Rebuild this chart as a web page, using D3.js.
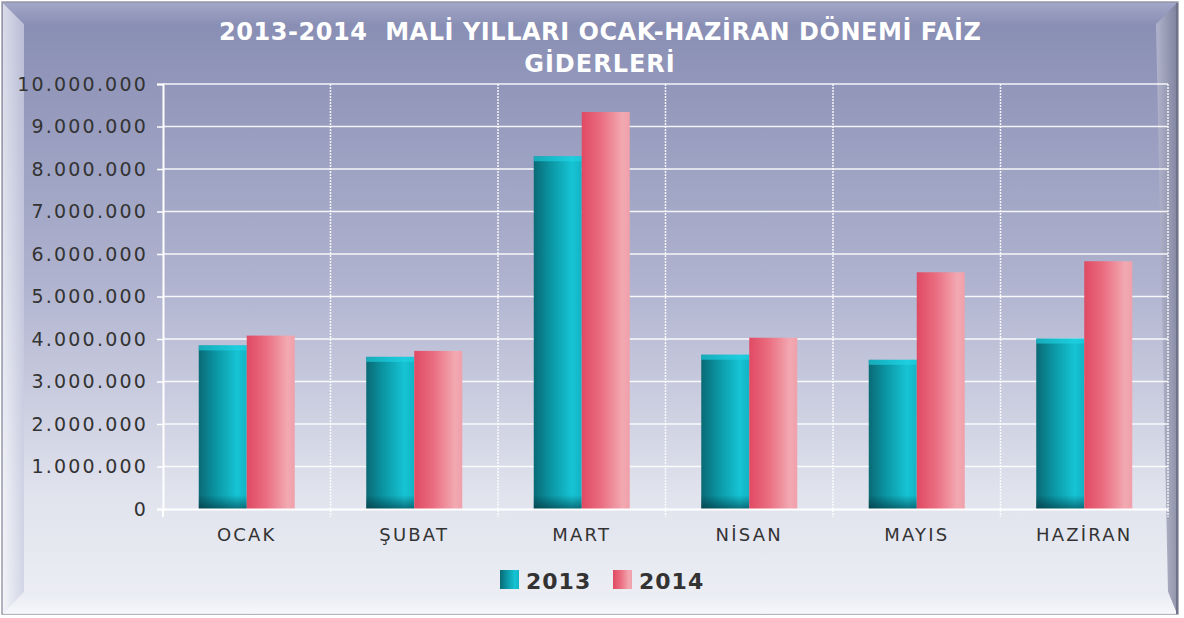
<!DOCTYPE html>
<html>
<head>
<meta charset="utf-8">
<script src="https://cdn.jsdelivr.net/npm/d3@7"></script>
<style>
  body { margin:0; background:#fff; }
  text { font-family: "DejaVu Sans", Verdana, sans-serif; }
</style>
</head>
<body>
<svg id="chart" width="1184" height="618"></svg>
<script>
// data
var months = ['OCAK', 'ŞUBAT', 'MART', 'NİSAN', 'MAYIS', 'HAZİRAN'];
var years = ['2013', '2014'];
var values2013 = [3850000, 3580000, 8300000, 3630000, 3510000, 4010000];
var values2014 = [4080000, 3720000, 9340000, 4030000, 5570000, 5830000];
var yTicks = [0, 1000000, 2000000, 3000000, 4000000, 5000000, 6000000, 7000000, 8000000, 9000000, 10000000];

var svg = d3.select('#chart');
var W = +svg.attr('width'), H = +svg.attr('height');
var margin = {left:163, right:16, top:84, bottom:109};

var defs = svg.append('defs');
function lin(id, x2, y2, stops) {
    var g = defs.append('linearGradient').attr('id', id)
        .attr('x1', 0).attr('y1', 0).attr('x2', x2).attr('y2', y2);
    stops.forEach(s => g.append('stop').attr('offset', s[0]).attr('stop-color', s[1]));
}
lin('bg', 0, 1, [[0, '#868bb2'], [0.45, '#aeb2ce'], [0.8, '#e0e2ed'], [1, '#eef0f5']]);
lin('bevelL', 1, 0, [[0, '#f4f5fa'], [1, '#c9cce0']]);
lin('bevelR', 1, 0, [[0, '#b9bcd0'], [1, '#7c8099']]);
lin('bevelB', 0, 1, [[0, '#e9ebf2'], [1, '#f7f8fb']]);
lin('bevelT', 0, 1, [[0, '#b4b8d6'], [1, '#8c91b6']]);
lin('c2013', 1, 0, [[0, '#0a6a75'], [0.35, '#0b95a3'], [0.8, '#16c4d4'], [1, '#12b3c4']]);
lin('c2014', 1, 0, [[0, '#e04a63'], [0.4, '#ea6d80'], [0.85, '#f2a9b2'], [1, '#f0a0aa']]);
lin('shadeB', 0, 1, [[0, 'rgba(0,40,50,0)'], [1, 'rgba(0,40,50,0.55)']]);

// frame with bevel
svg.append('rect').attr('x', 2).attr('y', 2).attr('width', W - 8).attr('height', H - 6)
    .attr('fill', 'url(#bg)').attr('stroke', '#9a9cab').attr('stroke-width', 1.5);
svg.append('path').attr('d', `M3,3 L24,24 L24,${H-26} L3,${H-4} Z`).attr('fill', 'url(#bevelL)').attr('opacity', 0.75);
svg.append('path').attr('d', `M3,3 L${W-7},3 L${W-28},24 L24,24 Z`).attr('fill', 'url(#bevelT)').attr('opacity', 0.6);
svg.append('path').attr('d', `M${W-7},3 L${W-7},${H-4} L${W-16},${H-26} L${W-28},24 Z`).attr('fill', 'url(#bevelR)').attr('opacity', 0.8);
svg.append('path').attr('d', `M3,${H-4} L24,${H-26} L${W-16},${H-26} L${W-7},${H-4} Z`).attr('fill', 'url(#bevelB)').attr('opacity', 0.85);
svg.append('line').attr('x1', W - 7).attr('x2', W - 7).attr('y1', 3).attr('y2', H - 4)
    .attr('stroke', '#6f7288').attr('stroke-width', 2);

var x0 = d3.scaleBand().domain(months).range([margin.left, W - margin.right]);
var x1 = d3.scaleBand().domain(years).range([0, x0.bandwidth()]).paddingOuter(0.745);
var y = d3.scaleLinear().domain([0, 10000000]).range([H - margin.bottom, margin.top]);
var fmt = d => d3.format(',')(d).replace(/,/g, '.');

// grid
var grid = svg.append('g');
grid.selectAll('.hg').data(yTicks.slice(1)).enter().append('line')
    .attr('x1', margin.left).attr('x2', W - margin.right)
    .attr('y1', d => y(d)).attr('y2', d => y(d))
    .attr('stroke', '#ffffff').attr('stroke-width', 1.5).attr('opacity', 0.9);
var vx = months.slice(1).map(m => x0(m)).concat([W - margin.right]);
grid.selectAll('.vg').data(vx).enter().append('line')
    .attr('x1', d => d).attr('x2', d => d)
    .attr('y1', margin.top).attr('y2', H - margin.bottom + 8)
    .attr('stroke', '#ffffff').attr('stroke-width', 1.5).attr('stroke-dasharray', '2,1').attr('opacity', 0.9);

// bars
var series = [values2013, values2014];
var bars = svg.append('g');
months.forEach((m, i) => {
    years.forEach((yr, j) => {
        var v = series[j][i];
        var bx = x0(m) + x1(yr);
        bars.append('rect').attr('x', bx).attr('y', y(v))
            .attr('width', x1.bandwidth()).attr('height', y(0) - y(v))
            .attr('fill', 'url(#c' + yr + ')');
        if (yr == '2013') {
            bars.append('rect').attr('x', bx).attr('y', y(0) - 14)
                .attr('width', x1.bandwidth()).attr('height', 14)
                .attr('fill', 'url(#shadeB)');
            bars.append('rect').attr('x', bx).attr('y', y(v))
                .attr('width', x1.bandwidth()).attr('height', 5)
                .attr('fill', '#22d6e6').attr('opacity', 0.6);
        }
    });
});

// axes
var gy = svg.append('g').attr('transform', `translate(${margin.left},0)`)
    .call(d3.axisLeft(y).tickValues(yTicks).tickFormat(fmt).tickSize(6).tickPadding(9));
var gx = svg.append('g').attr('transform', `translate(0,${H - margin.bottom})`)
    .call(d3.axisBottom(x0).tickSize(0).tickPadding(19));
[gy, gx].forEach(g => {
    g.select('.domain').attr('stroke', '#ffffff').attr('stroke-width', 2);
    g.selectAll('line').attr('stroke', '#ffffff').attr('stroke-width', 1.5);
    g.selectAll('text').attr('fill', '#333333').attr('font-family', '"DejaVu Sans", Verdana, sans-serif');
});
gy.selectAll('text').attr('font-size', 19).attr('letter-spacing', 2.2);
gx.selectAll('text').attr('font-size', 18).attr('letter-spacing', 2.2);
svg.append('line').attr('x1', margin.left).attr('x2', margin.left)
    .attr('y1', H - margin.bottom).attr('y2', H - margin.bottom + 8)
    .attr('stroke', '#ffffff').attr('stroke-width', 2);

// title
svg.append('text').text('2013-2014  MALİ YILLARI OCAK-HAZİRAN DÖNEMİ FAİZ')
    .attr('x', 600).attr('y', 40).attr('text-anchor', 'middle').attr('xml:space', 'preserve')
    .attr('fill', '#ffffff').attr('font-weight', 'bold').attr('font-size', 24)
    .attr('textLength', 762).attr('lengthAdjust', 'spacing');
svg.append('text').text('GİDERLERİ')
    .attr('x', 600).attr('y', 72).attr('text-anchor', 'middle')
    .attr('fill', '#ffffff').attr('font-weight', 'bold').attr('font-size', 24).attr('letter-spacing', 1);

// legend
var leg = svg.append('g').attr('transform', 'translate(500,580)');
years.forEach((yr, j) => {
    var g = leg.append('g').attr('transform', `translate(${j * 113},0)`);
    g.append('rect').attr('x', 0).attr('y', -10).attr('width', 19).attr('height', 19)
        .attr('fill', 'url(#c' + yr + ')');
    g.append('text').text(yr).attr('x', 26).attr('y', 9)
        .attr('fill', '#333333').attr('font-weight', 'bold').attr('font-size', 22).attr('letter-spacing', 1);
});
</script>
</body>
</html>
